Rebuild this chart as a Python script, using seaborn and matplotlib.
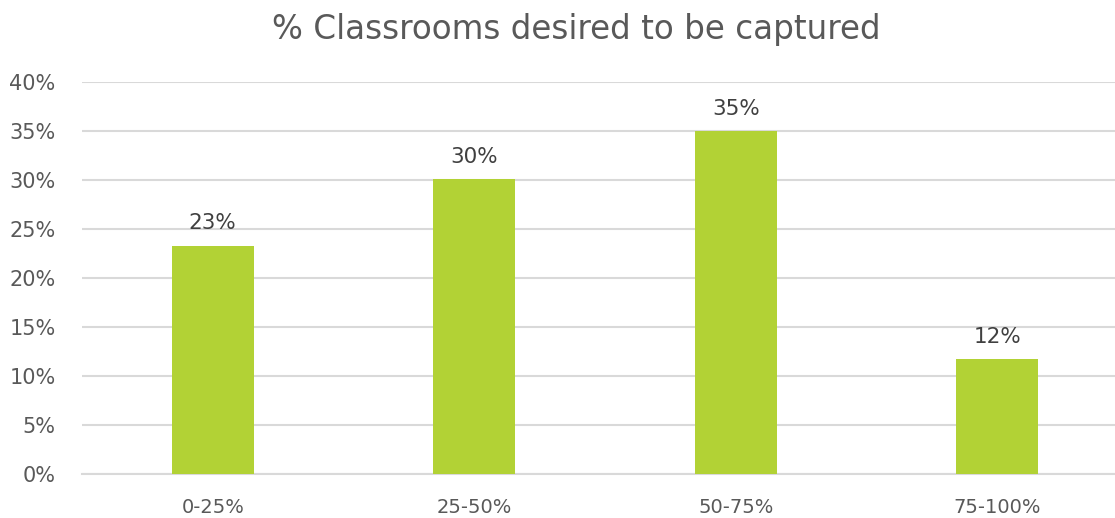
import matplotlib
matplotlib.use("Agg")
import matplotlib.pyplot as plt
import seaborn as sns
import pandas as pd

# Share of classrooms respondents want captured, by coverage band
categories = ["0-25%", "25-50%", "50-75%", "75-100%"]
shares = [0.233, 0.301, 0.350, 0.117]
y_ticks = [0.0, 0.05, 0.10, 0.15, 0.20, 0.25, 0.30, 0.35, 0.40]

df = pd.DataFrame({"band": categories, "share": shares})

sns.set_theme(style="white")
plt.rcParams["font.family"] = ["DejaVu Sans"]

text_color = "#595959"
bar_color = "#B2D235"
grid_color = "#D9D9D9"

fig = plt.figure(figsize=(11.15, 5.18), dpi=100)
ax = fig.add_axes([0.0735, 0.0849, 0.9265, 0.7568])

sns.barplot(data=df, x="band", y="share", color=bar_color, width=0.314,
            saturation=1, linewidth=0, edgecolor="none", ax=ax, zorder=3)

ax.set_ylim(0, 0.40)
ax.set_xlim(-0.5, 3.45)
ax.set_yticks(y_ticks)
ax.set_yticklabels([f"{round(t * 100):d}%" for t in y_ticks])
ax.yaxis.grid(True, color=grid_color, linewidth=1.5, zorder=0)
ax.set_axisbelow(True)

for side in ["left", "right", "top"]:
    ax.spines[side].set_visible(False)
ax.spines["bottom"].set_color(grid_color)
ax.spines["bottom"].set_linewidth(1.5)

ax.tick_params(axis="x", length=0, labelsize=14, colors=text_color, pad=17)
ax.tick_params(axis="y", length=0, labelsize=15, colors=text_color, pad=19)
ax.set_xlabel("")
ax.set_ylabel("")

for i, v in enumerate(shares):
    ax.annotate(f"{round(v * 100):d}%", xy=(i, v), xytext=(0, 9),
                textcoords="offset points", ha="center", va="bottom",
                fontsize=15.5, color="#404040")

fig.text(576 / 1115, 1 - 30 / 518, "% Classrooms desired to be captured",
         ha="center", va="center", fontsize=23.5, color=text_color)

fig.savefig("out.png", dpi=100)
